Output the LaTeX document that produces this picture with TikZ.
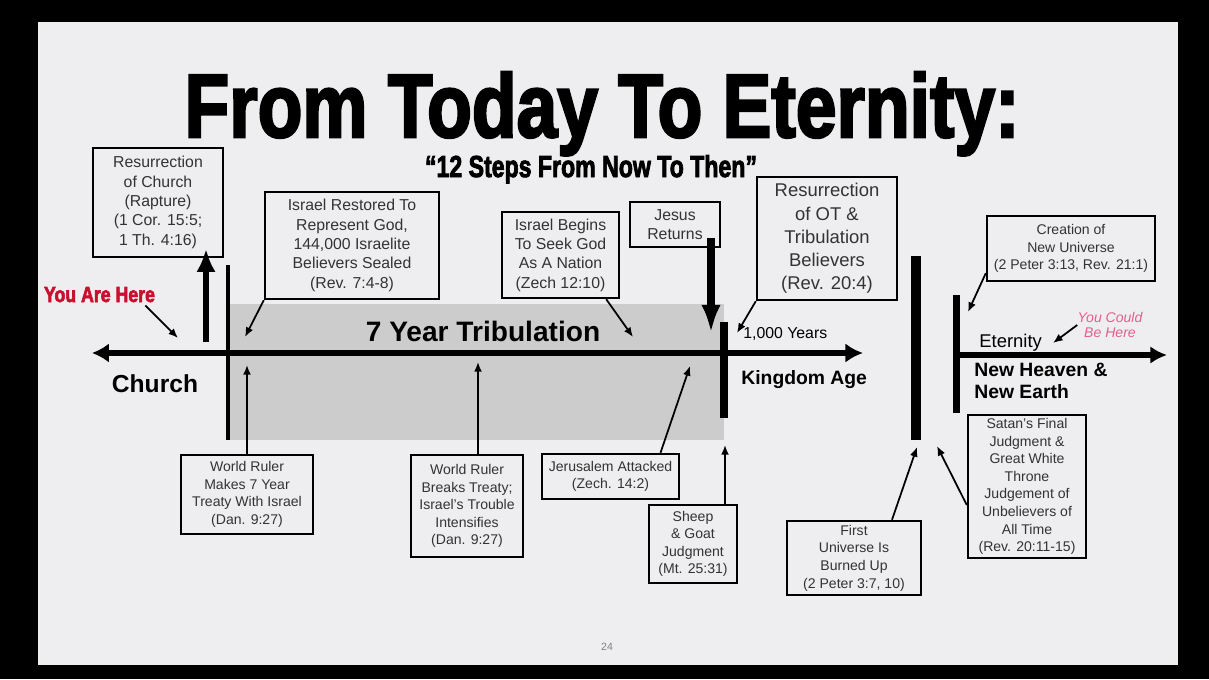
\documentclass[tikz,border=0pt]{standalone}
\usepackage{fontspec}
\setmainfont{Liberation Sans}
\newfontfamily\titlefont[FakeBold=3]{Liberation Sans}
\usetikzlibrary{arrows.meta}
\definecolor{slide}{RGB}{238,238,240}
\definecolor{youred}{RGB}{200,16,46}
\definecolor{youpink}{RGB}{226,96,142}
\begin{document}
\begin{tikzpicture}[x=0.02cm,y=-0.02cm,
    evt/.style={draw,line width=1.4pt,align=center,inner sep=1pt,text=black!80},
    sm/.style={font=\fontsize{8}{10}\selectfont},
    md/.style={font=\fontsize{9}{11}\selectfont},
    lbl/.style={inner sep=0pt},
    ptr/.style={-{Latex[length=5.5pt,width=4.5pt]},line width=1pt},
    thk/.style={line width=3.6pt}]
  \fill (0,0) rectangle (1209,679);
  \fill[slide] (38,22) rectangle (1178,665);
  \fill[gray!40] (228,304) rectangle (724,440);
  \node[lbl,anchor=base] (title) at (602,137) {\resizebox{16.7cm}{1.3cm}{\titlefont\bfseries From Today To Eternity:}};
  \node[lbl,anchor=base] (subtitle) at (591,177) {\resizebox{6.64cm}{0.44cm}{\titlefont\bfseries “12 Steps From Now To Then”}};
  % boxes above the line
  \node[evt,md,minimum width=2.6cm,minimum height=2.18cm] (rapt) at (158,202.5) {Resurrection\\of Church\\(Rapture)\\(1 Cor. 15:5;\\1 Th. 4:16)};
  \node[evt,md,minimum width=3.48cm,minimum height=2.14cm] (restored) at (352,245.5) {Israel Restored To\\Represent God,\\144,000 Israelite\\Believers Sealed\\(Rev. 7:4-8)};
  \node[evt,md,minimum width=2.34cm,minimum height=1.72cm] (seek) at (560.5,255) {Israel Begins\\To Seek God\\As A Nation\\(Zech 12:10)};
  \node[evt,md,minimum width=1.8cm,minimum height=0.9cm] (jesus) at (675,224.5) {Jesus\\Returns};
  \node[evt,font=\fontsize{10.5}{13.2}\selectfont,minimum width=2.8cm,minimum height=2.46cm] (resot) at (827,238.5) {Resurrection\\of OT \&\\Tribulation\\Believers\\(Rev. 20:4)};
  \node[evt,sm,minimum width=3.36cm,minimum height=1.3cm] (creation) at (1071,248.5) {Creation of\\New Universe\\(2 Peter 3:13, Rev. 21:1)};
  % boxes below the line
  \node[evt,sm,minimum width=2.64cm,minimum height=1.58cm] (treaty) at (247,494.5) {World Ruler\\Makes 7 Year\\Treaty With Israel\\(Dan. 9:27)};
  \node[evt,sm,minimum width=2.24cm,minimum height=2.04cm] (breaks) at (467,506) {World Ruler\\Breaks Treaty;\\Israel's Trouble\\Intensifies\\(Dan. 9:27)};
  \node[evt,sm,minimum width=2.74cm,minimum height=0.9cm] (jerus) at (610.5,476.5) {Jerusalem Attacked\\(Zech. 14:2)};
  \node[evt,sm,minimum width=1.76cm,minimum height=1.56cm] (sheep) at (693,544) {Sheep\\\& Goat\\Judgment\\(Mt. 25:31)};
  \node[evt,sm,minimum width=2.68cm,minimum height=1.48cm] (burned) at (854,558) {First\\Universe Is\\Burned Up\\(2 Peter 3:7, 10)};
  \node[evt,sm,minimum width=2.36cm,minimum height=2.86cm] (satan) at (1027,486.5) {Satan's Final\\Judgment \&\\Great White\\Throne\\Judgement of\\Unbelievers of\\All Time\\(Rev. 20:11-15)};
  % labels
  \node[lbl,anchor=base,text=youred] (youhere) at (99.5,302) {\resizebox{2.22cm}{0.3cm}{\titlefont\bfseries You Are Here}};
  \node[lbl,align=center,text=youpink,font=\itshape\fontsize{8}{8.5}\selectfont] (youcould) at (1110,325) {You Could\\Be Here};
  \node[lbl,font=\bfseries\fontsize{14}{16}\selectfont] (church) at (155,384) {Church};
  \node[lbl,font=\bfseries\fontsize{16}{18}\selectfont] (trib) at (483,331) {7 Year Tribulation};
  \node[lbl,anchor=west,font=\fontsize{9}{11}\selectfont] (thousand) at (743,334) {1,000 Years};
  \node[lbl,anchor=west,font=\bfseries\fontsize{11}{13}\selectfont] (kingdom) at (741,380) {Kingdom Age};
  \node[lbl,anchor=west,font=\fontsize{10.5}{12}\selectfont] (eternity) at (979,343) {Eternity};
  \node[lbl,anchor=north west,align=left,font=\bfseries\fontsize{11}{12.5}\selectfont] (newhe) at (974,363) {New Heaven \&\\New Earth};
  \node[lbl,text=black!50,font=\fontsize{6}{7}\selectfont] (pagenum) at (607,647) {24};
  % time line and markers
  \coordinate (west) at (92,353); \coordinate (east) at (863,353);
  \coordinate (ew) at (957,355); \coordinate (ee) at (1167,355);
  \draw[thk,{Latex[length=9.6pt,width=11pt]}-{Latex[length=10pt,width=11pt]}] (west) -- (east);
  \draw[thk,-{Latex[length=9.5pt,width=10pt]}] (ew) -- (ee);
  \draw[line width=2.8pt] (228,265) -- (228,440);
  \draw[line width=4pt] (724,322) -- (724,418);
  \draw[line width=5.7pt] (916,256) -- (916,440);
  \draw[line width=4pt] (956,295) -- (956,413);
  \coordinate (rb) at (206,342); \coordinate (rt) at (206,249);
  \draw[thk,-{Latex[length=13pt,width=11pt]}] (rb) -- (rt);
  \coordinate (jt) at (711,333);
  \draw[line width=4pt,-{Latex[length=16pt,width=11pt]}] ([shift={(36,-10)}]jesus.south) -- (jt);
  % pointers
  \coordinate (here) at (178,338); \draw[ptr] ([shift={(-10,3)}]youhere.south east) -- (here);
  \coordinate (p2) at (245,337); \draw[ptr] (restored.south west) -- (p2);
  \coordinate (p3) at (633,337); \draw[ptr] ([shift={(-14,0)}]seek.south east) -- (p3);
  \coordinate (p5) at (737,333); \draw[ptr] (resot.south west) -- (p5);
  \coordinate (p6) at (968,312); \draw[ptr] ([shift={(0,-9)}]creation.south west) -- (p6);
  \coordinate (p7) at (247,365); \draw[ptr] (treaty.north) -- (p7);
  \coordinate (p8) at (478,362); \draw[ptr] ([shift={(11,0)}]breaks.north) -- (p8);
  \coordinate (p9) at (690,366); \draw[ptr] ([shift={(50,0)}]jerus.north) -- (p9);
  \coordinate (p10) at (725,445); \draw[ptr] ([shift={(32,0)}]sheep.north) -- (p10);
  \coordinate (p11) at (917,447); \draw[ptr] ([shift={(38,0)}]burned.north) -- (p11);
  \coordinate (p12) at (937,446); \draw[ptr] ([shift={(0,18.5)}]satan.west) -- (p12);
  \coordinate (p13) at (1053,343); \draw[ptr] (youcould.west) -- (p13);
\end{tikzpicture}
\end{document}
